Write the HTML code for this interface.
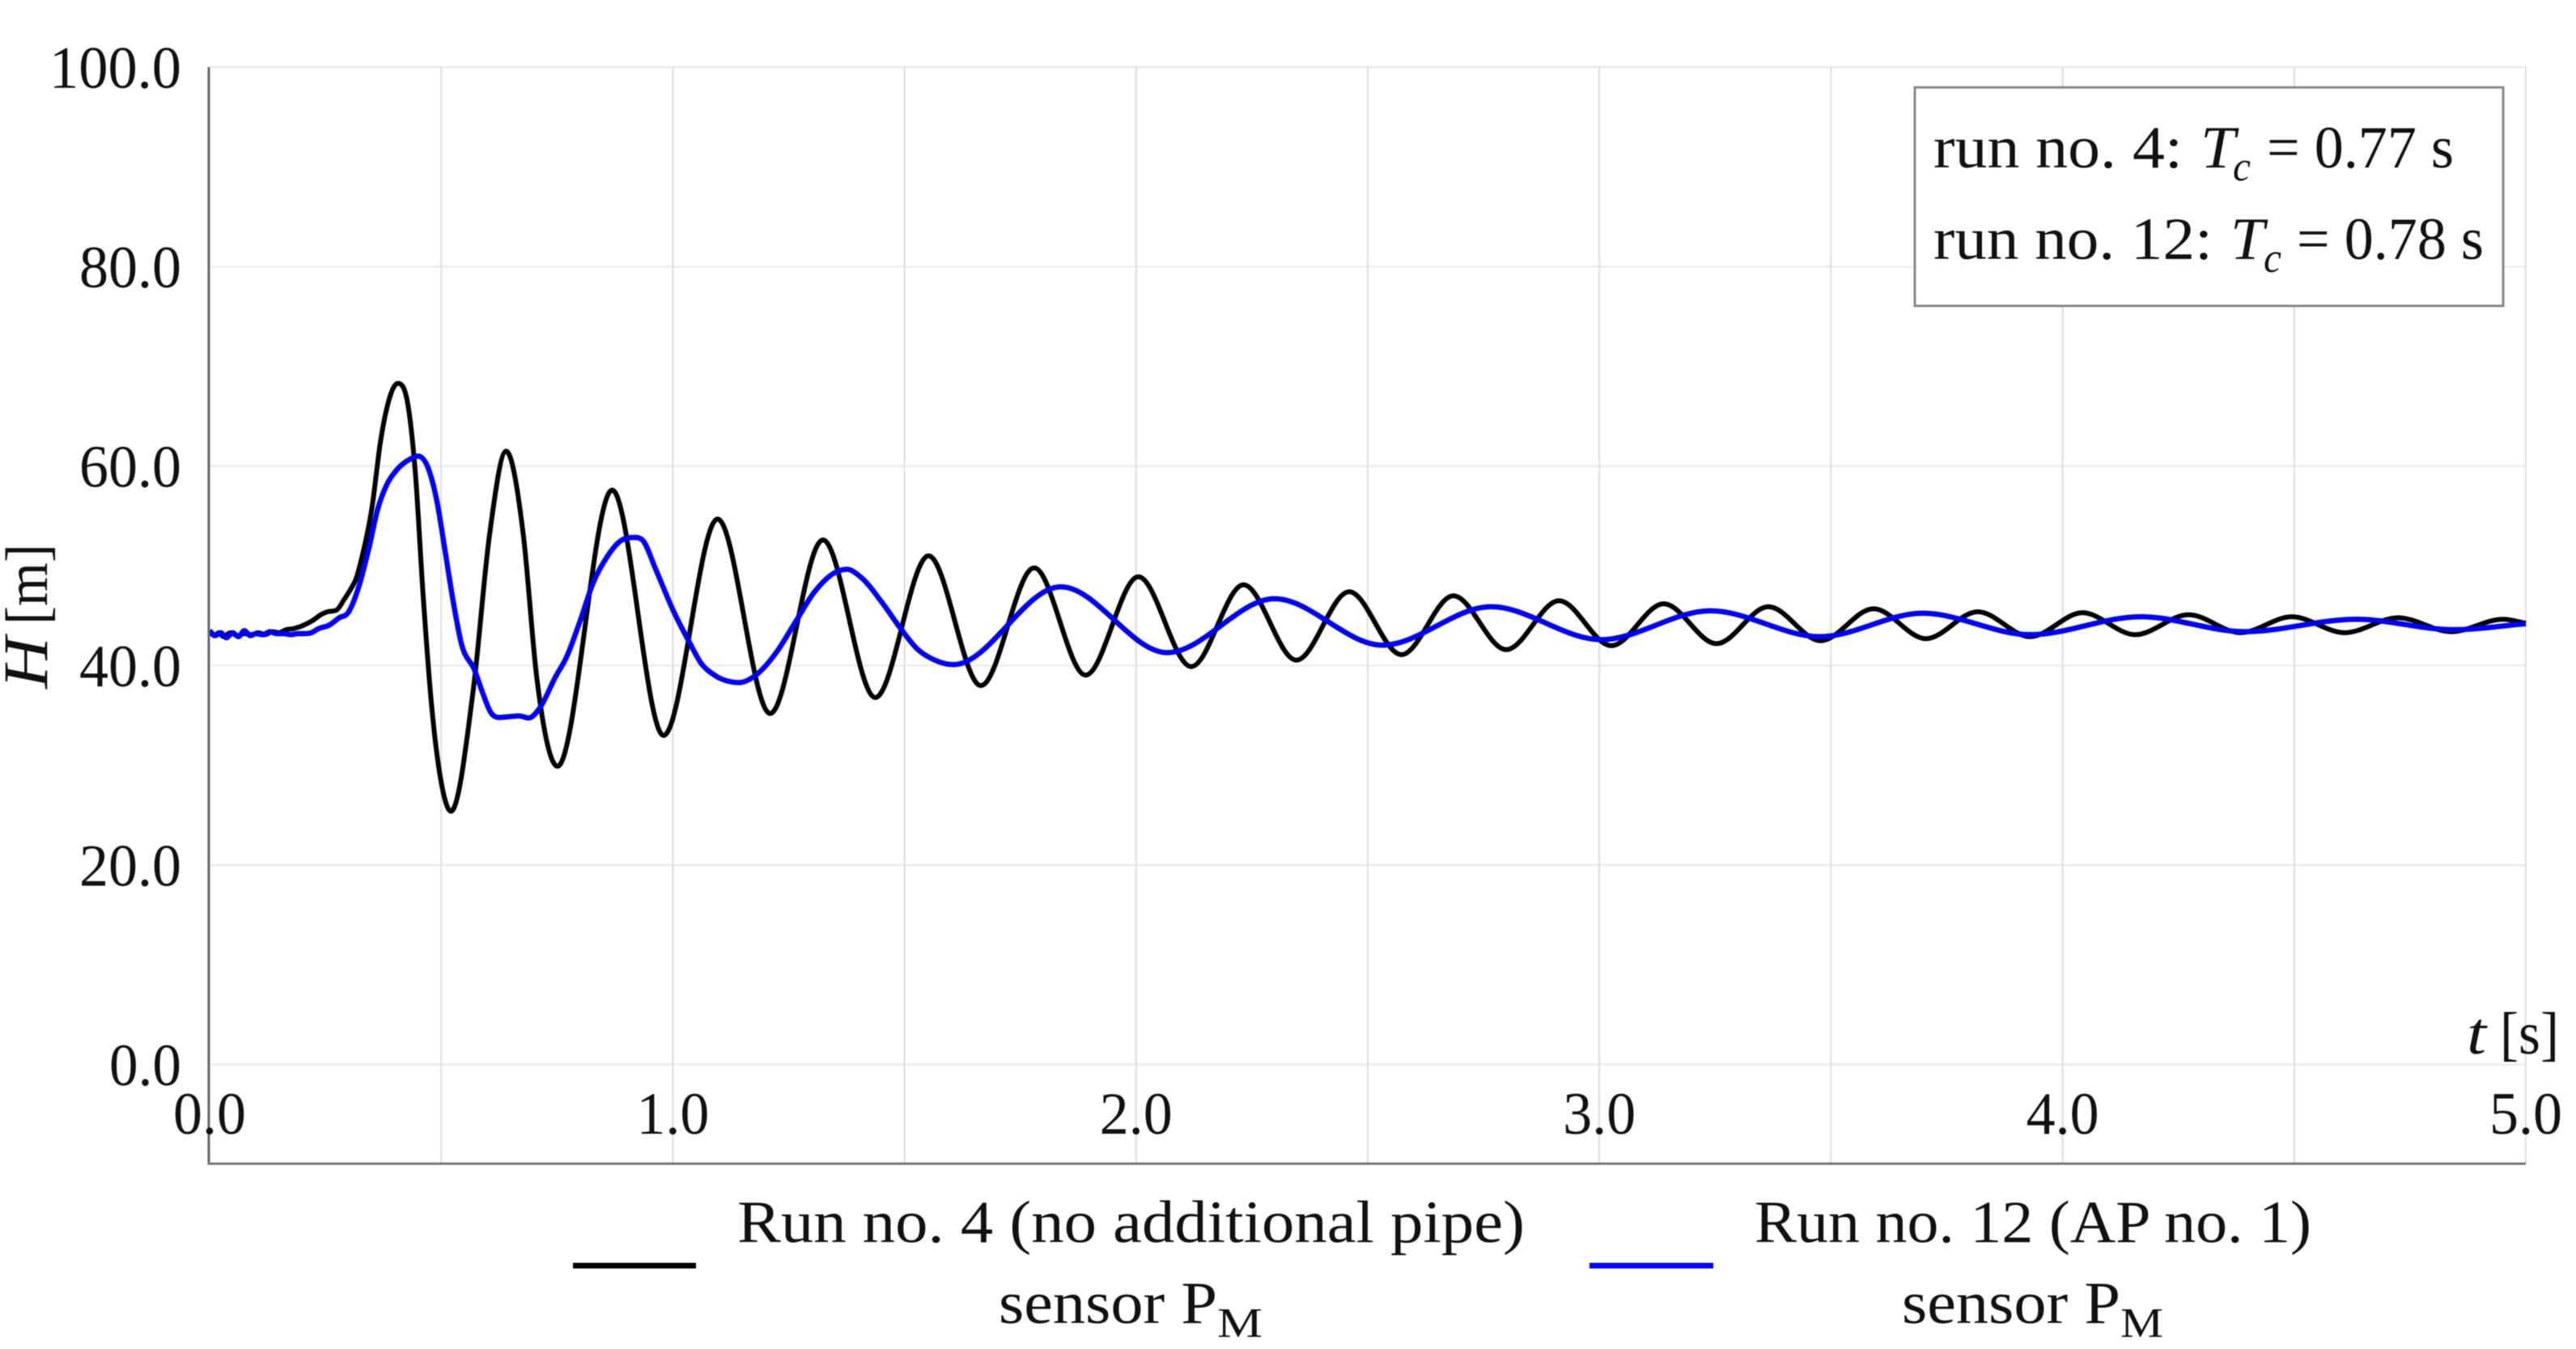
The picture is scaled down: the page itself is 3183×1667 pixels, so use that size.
<!DOCTYPE html>
<html lang="en">
<head>
<meta charset="utf-8">
<title>Pressure head over time: run no. 4 and run no. 12</title>
<style>
html,body{margin:0;padding:0;background:#fff;}
svg{display:block;filter:blur(0.6px);}
text{font-family:"Liberation Serif","DejaVu Serif",serif;fill:#111;}
.i{font-style:italic;}
</style>
</head>
<body>
<svg id="chart" xmlns="http://www.w3.org/2000/svg" width="3183" height="1667" viewBox="0 0 3183 1667">
  <rect x="0" y="0" width="3183" height="1667" fill="#fff"/>
  <g id="grid"></g>
  <g id="series"></g>
  <g id="axes"></g>
  <g id="ticks"></g>

  <g transform="translate(58,853) rotate(-90)">
    <text x="2" y="0" class="i" font-size="78" textLength="64" lengthAdjust="spacingAndGlyphs">H</text>
    <text x="81" y="0" font-size="74" textLength="100" lengthAdjust="spacingAndGlyphs">[m]</text>
  </g>
  <g>
    <text x="3048" y="1302" class="i" font-size="74" textLength="24" lengthAdjust="spacingAndGlyphs">t</text>
    <text x="3089" y="1302" font-size="74" textLength="73" lengthAdjust="spacingAndGlyphs">[s]</text>
  </g>

  <g>
    <rect x="2366" y="108" width="727" height="270" fill="#fff" stroke="#888" stroke-width="3"/>
    <g>
      <text x="2389" y="207" font-size="74" textLength="308" lengthAdjust="spacingAndGlyphs">run no. 4:</text>
      <text x="2719" y="207" class="i" font-size="74" textLength="43" lengthAdjust="spacingAndGlyphs">T</text>
      <text x="2759" y="223" class="i" font-size="52" textLength="22" lengthAdjust="spacingAndGlyphs">c</text>
      <text x="2801" y="207" font-size="74" textLength="231" lengthAdjust="spacingAndGlyphs">= 0.77 s</text>
    </g>
    <g>
      <text x="2389" y="320" font-size="74" textLength="345" lengthAdjust="spacingAndGlyphs">run no. 12:</text>
      <text x="2756" y="320" class="i" font-size="74" textLength="42" lengthAdjust="spacingAndGlyphs">T</text>
      <text x="2797" y="336" class="i" font-size="52" textLength="22" lengthAdjust="spacingAndGlyphs">c</text>
      <text x="2838" y="320" font-size="74" textLength="231" lengthAdjust="spacingAndGlyphs">= 0.78 s</text>
    </g>
  </g>

  <g>
    <g>
      <line x1="708" x2="860" y1="1564" y2="1564" stroke="#000" stroke-width="7"/>
      <text x="911" y="1535" font-size="74" textLength="973" lengthAdjust="spacingAndGlyphs">Run no. 4 (no additional pipe)</text>
      <text x="1234" y="1635" font-size="74" textLength="270" lengthAdjust="spacingAndGlyphs">sensor P</text>
      <text x="1504" y="1652" font-size="52" textLength="56" lengthAdjust="spacingAndGlyphs">M</text>
    </g>
    <g>
      <line x1="1964" x2="2117" y1="1564" y2="1564" stroke="#0000ff" stroke-width="7"/>
      <text x="2168" y="1535" font-size="74" textLength="688" lengthAdjust="spacingAndGlyphs">Run no. 12 (AP no. 1)</text>
      <text x="2350" y="1635" font-size="74" textLength="270" lengthAdjust="spacingAndGlyphs">sensor P</text>
      <text x="2620" y="1652" font-size="52" textLength="53" lengthAdjust="spacingAndGlyphs">M</text>
    </g>
  </g>
</svg>

<script>
// Tick values and printed labels
const xTickValues = [0, 1, 2, 3, 4, 5];
const xTickLabels = ["0.0", "1.0", "2.0", "3.0", "4.0", "5.0"];
const yTickValues = [0, 20, 40, 60, 80, 100];
const yTickLabels = ["0.0", "20.0", "40.0", "60.0", "80.0", "100.0"];
const xGridValues = [0.5, 1, 1.5, 2, 2.5, 3, 3.5, 4, 4.5, 5];

// Run no. 4, time [s] and head [m]
const run4Time = [0, .01, .02, .03, .045, .06, .075, .09, .105, .12, .135, .15, .165, .18, .195, .21, .225, .24, .255, .275, .29, .305, .316, .328, .351, .369, .383, .4065, .43, .444, .461, .479, .5, .521, .5695, .6045, .64, .677, .706, .751, .869, .98, 1.0966, 1.21, 1.324, 1.437, 1.552, 1.665, 1.78, 1.891, 2.005, 2.119, 2.232, 2.346, 2.46, 2.573, 2.685, 2.799, 2.913, 3.026, 3.139, 3.253, 3.365, 3.478, 3.592, 3.705, 3.817, 3.93, 4.043, 4.157, 4.272, 4.384, 4.495, 4.609, 4.724, 4.839, 4.951, 5];
const run4Head = [43.4, 43.0, 43.3, 42.9, 43.3, 43.0, 43.2, 43.1, 43.3, 43.1, 43.4, 43.3, 43.6, 43.7, 43.9, 44.2, 44.6, 45.1, 45.4, 45.6, 46.6, 47.7, 48.7, 50.7, 56.0, 62.5, 65.9, 68.3, 65.6, 59.4, 47.0, 36.1, 28.3, 25.4, 37.7, 53.2, 61.5, 53.2, 38.9, 29.9, 57.6, 33.0, 54.7, 35.2, 52.6, 36.8, 51.0, 38.0, 49.8, 39.05, 48.9, 39.9, 48.1, 40.55, 47.4, 41.1, 47.0, 41.6, 46.5, 42.0, 46.2, 42.2, 45.9, 42.5, 45.7, 42.7, 45.4, 42.9, 45.3, 43.1, 45.1, 43.3, 44.9, 43.3, 44.8, 43.4, 44.65, 44.25];

// Run no. 12, time [s] and head [m]
const run12Time = [0, .012, .024, .036, .05, .062, .075, .088, .1, .115, .13, .145, .16, .175, .19, .205, .22, .235, .258, .28, .299, .322, .345, .363, .38, .4036, .4327, .45, .4735, .491, .508, .526, .543, .5725, .59, .607, .625, .6685, .689, .712, .747, .77, .8, .828, .858, .887, .916, .936, .9626, 1.003, 1.035, 1.0616, 1.088, 1.143, 1.178, 1.2246, 1.265, 1.306, 1.353, 1.376, 1.405, 1.452, 1.492, 1.527, 1.568, 1.606, 1.8375, 2.067, 2.299, 2.532, 2.766, 3.004, 3.24, 3.476, 3.698, 3.93, 4.169, 4.393, 4.634, 4.844, 5];
const run12Head = [43.5, 43.0, 43.3, 42.8, 43.3, 42.9, 43.5, 43.0, 43.2, 43.1, 43.4, 43.2, 43.2, 43.1, 43.2, 43.2, 43.3, 43.7, 44.05, 44.8, 45.3, 47.9, 52.0, 55.7, 57.9, 59.6, 60.7, 61.0, 59.6, 56.4, 51.6, 46.4, 42.3, 39.5, 37.2, 35.3, 34.8, 34.95, 34.75, 35.7, 38.9, 40.8, 44.5, 48.3, 50.9, 52.5, 52.85, 52.5, 49.7, 45.3, 42.4, 40.2, 39.1, 38.3, 39.0, 41.4, 44.4, 47.4, 49.4, 49.65, 48.9, 46.3, 43.7, 41.7, 40.5, 40.1, 47.9, 41.3, 46.7, 42.05, 45.9, 42.6, 45.5, 42.9, 45.25, 43.1, 44.9, 43.4, 44.65, 43.6, 44.2];

const SVG_NS = "http://www.w3.org/2000/svg";
const PLOT_LEFT = 259, PLOT_RIGHT = 3121, PLOT_TOP = 83, PLOT_BOTTOM = 1438;
const X_MAX = 5, Y_ZERO = 1315.5, Y_UNIT = 12.325;

function xScale(t) { return PLOT_LEFT + (PLOT_RIGHT - PLOT_LEFT) * t / X_MAX; }
function yScale(h) { return Y_ZERO - Y_UNIT * h; }

function smoothPath(times, heads) {
  const xs = times.map(xScale);
  const ys = heads.map(yScale);
  const n = xs.length;
  const secant = [];
  for (let i = 0; i < n - 1; i++) secant.push((ys[i + 1] - ys[i]) / (xs[i + 1] - xs[i]));
  const slope = new Array(n).fill(0);
  slope[0] = secant[0];
  slope[n - 1] = secant[n - 2];
  for (let i = 1; i < n - 1; i++) {
    if (secant[i - 1] * secant[i] > 0) {
      const h0 = xs[i] - xs[i - 1], h1 = xs[i + 1] - xs[i];
      const centred = (h1 * secant[i - 1] + h0 * secant[i]) / (h0 + h1);
      const limit = 3 * Math.min(Math.abs(secant[i - 1]), Math.abs(secant[i]));
      slope[i] = Math.sign(centred) * Math.min(Math.abs(centred), limit);
    }
  }
  let d = "M" + xs[0].toFixed(2) + " " + ys[0].toFixed(2);
  for (let i = 0; i < n - 1; i++) {
    const step = (xs[i + 1] - xs[i]) / 3;
    d += "C" + (xs[i] + step).toFixed(2) + " " + (ys[i] + slope[i] * step).toFixed(2) +
         " " + (xs[i + 1] - step).toFixed(2) + " " + (ys[i + 1] - slope[i + 1] * step).toFixed(2) +
         " " + xs[i + 1].toFixed(2) + " " + ys[i + 1].toFixed(2);
  }
  return d;
}

const gridGroup = document.getElementById("grid");
const seriesGroup = document.getElementById("series");
const axesGroup = document.getElementById("axes");
const ticksGroup = document.getElementById("ticks");

yTickValues.forEach(function (v) {
  const el = document.createElementNS(SVG_NS, "line");
  el.setAttribute("x1", PLOT_LEFT);
  el.setAttribute("x2", PLOT_RIGHT);
  el.setAttribute("y1", yScale(v));
  el.setAttribute("y2", yScale(v));
  el.setAttribute("stroke", "#eeeeee");
  el.setAttribute("stroke-width", "3");
  
  
  gridGroup.appendChild(el);
});

xGridValues.forEach(function (v) {
  const el = document.createElementNS(SVG_NS, "line");
  el.setAttribute("x1", xScale(v));
  el.setAttribute("x2", xScale(v));
  el.setAttribute("y1", PLOT_TOP);
  el.setAttribute("y2", PLOT_BOTTOM);
  el.setAttribute("stroke", "#dedede");
  el.setAttribute("stroke-width", "2");
  
  
  gridGroup.appendChild(el);
});

const run4Line = document.createElementNS(SVG_NS, "path");
run4Line.setAttribute("d", smoothPath(run4Time, run4Head));
run4Line.setAttribute("fill", "none");
run4Line.setAttribute("stroke", "#000000");
run4Line.setAttribute("stroke-width", "6");
run4Line.setAttribute("stroke-linejoin", "round");


seriesGroup.appendChild(run4Line);

const run12Line = document.createElementNS(SVG_NS, "path");
run12Line.setAttribute("d", smoothPath(run12Time, run12Head));
run12Line.setAttribute("fill", "none");
run12Line.setAttribute("stroke", "#0000ff");
run12Line.setAttribute("stroke-width", "6.5");
run12Line.setAttribute("stroke-linejoin", "round");


seriesGroup.appendChild(run12Line);

const yAxisLine = document.createElementNS(SVG_NS, "line");
yAxisLine.setAttribute("x1", PLOT_LEFT - 1);
yAxisLine.setAttribute("x2", PLOT_LEFT - 1);
yAxisLine.setAttribute("y1", PLOT_TOP);
yAxisLine.setAttribute("y2", PLOT_BOTTOM + 1.5);
yAxisLine.setAttribute("stroke", "#666666");
yAxisLine.setAttribute("stroke-width", "3");


axesGroup.appendChild(yAxisLine);

const xAxisLine = document.createElementNS(SVG_NS, "line");
xAxisLine.setAttribute("x1", PLOT_LEFT - 2);
xAxisLine.setAttribute("x2", PLOT_RIGHT);
xAxisLine.setAttribute("y1", PLOT_BOTTOM);
xAxisLine.setAttribute("y2", PLOT_BOTTOM);
xAxisLine.setAttribute("stroke", "#777777");
xAxisLine.setAttribute("stroke-width", "3");


axesGroup.appendChild(xAxisLine);

xTickValues.forEach(function (v, i) {
  const el = document.createElementNS(SVG_NS, "text");
  el.setAttribute("x", xScale(v));
  el.setAttribute("y", "1401");
  el.setAttribute("text-anchor", "middle");
  el.setAttribute("font-size", "74");
  el.setAttribute("textLength", "90");
  el.setAttribute("lengthAdjust", "spacingAndGlyphs");
  
  
  el.textContent = xTickLabels[i];
  ticksGroup.appendChild(el);
});

yTickValues.forEach(function (v, i) {
  const el = document.createElementNS(SVG_NS, "text");
  el.setAttribute("x", "224");
  el.setAttribute("y", yScale(v) + 25.5);
  el.setAttribute("text-anchor", "end");
  el.setAttribute("font-size", "74");
  el.setAttribute("textLength", String(yTickLabels[i].length * 37 - 22));
  el.setAttribute("lengthAdjust", "spacingAndGlyphs");
  
  
  el.textContent = yTickLabels[i];
  ticksGroup.appendChild(el);
});
</script>
</body>
</html>
